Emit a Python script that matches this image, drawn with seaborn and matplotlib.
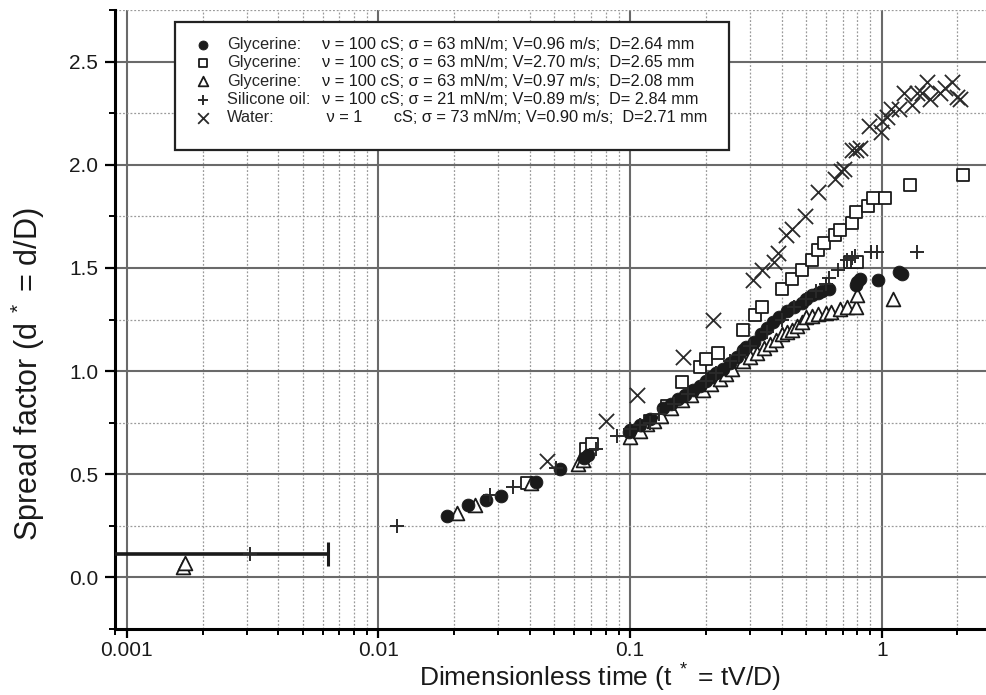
import matplotlib
matplotlib.use("Agg")
import matplotlib.pyplot as plt
import numpy as np
import pandas as pd
import seaborn as sns
from matplotlib.ticker import FixedLocator, NullFormatter, MultipleLocator
from matplotlib.patches import Rectangle

# ---------------- data ----------------
gly096_t = [0.0188, 0.0228, 0.0268, 0.0308, 0.0424, 0.0528, 0.0658, 0.068, 0.0993, 0.1,
            0.11, 0.12, 0.135, 0.145, 0.155, 0.165, 0.178, 0.19, 0.2, 0.21, 0.22, 0.234,
            0.25, 0.265, 0.28, 0.29, 0.31, 0.33, 0.35, 0.37, 0.39, 0.42, 0.45, 0.48,
            0.5, 0.53, 0.56, 0.58, 0.62, 0.79, 0.80, 0.82, 0.97, 1.17, 1.2]
gly096_d = [0.30, 0.353, 0.377, 0.396, 0.464, 0.527, 0.58, 0.595, 0.705, 0.715,
            0.74, 0.77, 0.82, 0.84, 0.865, 0.885, 0.91, 0.93, 0.95, 0.97, 0.99, 1.01,
            1.04, 1.07, 1.10, 1.115, 1.14, 1.18, 1.21, 1.24, 1.26, 1.29, 1.31, 1.33,
            1.35, 1.37, 1.38, 1.39, 1.40, 1.415, 1.43, 1.445, 1.44, 1.48, 1.47]

gly270_t = [0.039, 0.067, 0.0707, 0.12, 0.14, 0.161, 0.19, 0.2, 0.224, 0.28, 0.315, 0.335,
            0.40, 0.44, 0.48, 0.53, 0.56, 0.59, 0.65, 0.68, 0.75, 0.76, 0.79, 0.80,
            0.88, 0.92, 1.03, 1.29, 2.1]
gly270_d = [0.46, 0.62, 0.647, 0.76, 0.83, 0.947, 1.02, 1.06, 1.09, 1.20, 1.27, 1.31,
            1.40, 1.445, 1.49, 1.54, 1.585, 1.62, 1.66, 1.685, 1.53, 1.72, 1.77, 1.53,
            1.80, 1.84, 1.84, 1.90, 1.95]

gly097_t = [0.00167, 0.0017, 0.0205, 0.0242, 0.0404, 0.062, 0.065, 0.1, 0.11, 0.117,
            0.125, 0.133, 0.145, 0.161, 0.175, 0.194, 0.21, 0.228, 0.24, 0.254, 0.28,
            0.3, 0.32, 0.34, 0.36, 0.38, 0.40, 0.42, 0.44, 0.46, 0.48, 0.50, 0.53,
            0.56, 0.6, 0.63, 0.68, 0.73, 0.79, 0.80, 1.11]
gly097_d = [0.05, 0.07, 0.31, 0.35, 0.46, 0.55, 0.57, 0.68, 0.71, 0.745,
            0.76, 0.78, 0.82, 0.86, 0.885, 0.91, 0.935, 0.96, 0.985, 1.01, 1.05,
            1.07, 1.09, 1.11, 1.13, 1.15, 1.18, 1.19, 1.20, 1.22, 1.24, 1.26, 1.265,
            1.275, 1.28, 1.285, 1.30, 1.31, 1.31, 1.37, 1.35]

sil_t = [0.0031, 0.0119, 0.0277, 0.0343, 0.051, 0.073, 0.089, 0.1, 0.11, 0.12, 0.13,
         0.15, 0.17, 0.2, 0.22, 0.25, 0.27, 0.3, 0.35, 0.4, 0.45, 0.5, 0.55, 0.6,
         0.62, 0.67, 0.73, 0.76, 0.78, 0.91, 0.96, 1.38]
sil_d = [0.115, 0.25, 0.40, 0.44, 0.53, 0.62, 0.686, 0.72, 0.74, 0.75, 0.79,
         0.84, 0.89, 0.95, 0.99, 1.05, 1.08, 1.12, 1.19, 1.25, 1.31, 1.35, 1.39, 1.42,
         1.45, 1.49, 1.54, 1.55, 1.56, 1.575, 1.575, 1.575]

wat_t = [0.0466, 0.0803, 0.107, 0.163, 0.214, 0.309, 0.335, 0.372, 0.387, 0.418, 0.44,
         0.497, 0.56, 0.65, 0.69, 0.71, 0.76, 0.79, 0.82, 0.89, 0.99, 1.0, 1.05, 1.09,
         1.17, 1.23, 1.32, 1.38, 1.45, 1.52, 1.56, 1.71, 1.79, 1.9, 1.99, 2.05]
wat_d = [0.565, 0.758, 0.884, 1.068, 1.25, 1.44, 1.49, 1.53, 1.57, 1.66, 1.69,
         1.75, 1.87, 1.93, 1.97, 1.98, 2.07, 2.07, 2.08, 2.19, 2.16, 2.21, 2.23, 2.27,
         2.27, 2.35, 2.29, 2.35, 2.35, 2.40, 2.32, 2.35, 2.37, 2.40, 2.33, 2.32]

# horizontal error bar on the earliest silicone-oil point
err_t = 0.0031
err_d = 0.115
err_lo = 0.0027
err_hi = 0.0032

series_names = ["Glycerine:", "Glycerine:", "Glycerine:", "Silicone oil:", "Water:"]
series_params = ["\u03bd = 100 cS; \u03c3 = 63 mN/m; V=0.96 m/s;  D=2.64 mm",
                 "\u03bd = 100 cS; \u03c3 = 63 mN/m; V=2.70 m/s;  D=2.65 mm",
                 "\u03bd = 100 cS; \u03c3 = 63 mN/m; V=0.97 m/s;  D=2.08 mm",
                 "\u03bd = 100 cS; \u03c3 = 21 mN/m; V=0.89 m/s;  D= 2.84 mm",
                 " \u03bd = 1       cS; \u03c3 = 73 mN/m; V=0.90 m/s;  D=2.71 mm"]

x_ticks = [0.001, 0.01, 0.1, 1]
x_tick_labels = ["0.001", "0.01", "0.1", "1"]
y_ticks = [0.0, 0.5, 1.0, 1.5, 2.0, 2.5]
y_tick_labels = ["0.0", "0.5", "1.0", "1.5", "2.0", "2.5"]

# ---------------- style ----------------
sns.set_theme(style="white")
plt.rcParams['font.family'] = ['Liberation Sans', 'DejaVu Sans']
plt.rcParams['mathtext.fontset'] = 'custom'
plt.rcParams['mathtext.rm'] = 'Liberation Sans'
plt.rcParams['mathtext.it'] = 'Liberation Sans:italic'
plt.rcParams['mathtext.bf'] = 'Liberation Sans:bold'

W, H = 987, 695
fig = plt.figure(figsize=(W / 100, H / 100), dpi=100)
ax_l, ax_r, ax_t, ax_b = 115, 987, 10, 629
ax = fig.add_axes([ax_l / W, 1 - ax_b / H, (ax_r - ax_l) / W, (ax_b - ax_t) / H])

ink = "#1a1a1a"
frames = {
    "gly096": pd.DataFrame({"t": gly096_t, "d": gly096_d}),
    "gly270": pd.DataFrame({"t": gly270_t, "d": gly270_d}),
    "gly097": pd.DataFrame({"t": gly097_t, "d": gly097_d}),
    "sil": pd.DataFrame({"t": sil_t, "d": sil_d}),
    "wat": pd.DataFrame({"t": wat_t, "d": wat_d}),
}

ax.errorbar([err_t], [err_d], xerr=[[err_lo], [err_hi]], fmt="none",
            ecolor=ink, elinewidth=2.6, capsize=8.5, capthick=2.2, zorder=3)

sns.scatterplot(data=frames["gly096"], x="t", y="d", ax=ax, marker="o", s=85,
                color=ink, edgecolor=ink, linewidth=0.6, label=series_names[0], zorder=5)
sns.scatterplot(data=frames["gly270"], x="t", y="d", ax=ax, marker="s", s=66,
                color="white", edgecolor=ink, linewidth=1.3, label=series_names[1], zorder=4)
sns.scatterplot(data=frames["gly097"], x="t", y="d", ax=ax, marker="^", s=98,
                color="white", edgecolor=ink, linewidth=1.3, label=series_names[2], zorder=4)
sns.scatterplot(data=frames["sil"], x="t", y="d", ax=ax, marker="+", s=100,
                color="#2a2a2a", linewidth=1.4, label=series_names[3], zorder=6)
sns.scatterplot(data=frames["wat"], x="t", y="d", ax=ax, marker="x", s=120,
                color="#2a2a2a", linewidth=1.3, label=series_names[4], zorder=6)

ax.set_xscale("log")
ax.set_xlim(0.000898, 2.62)
ax.set_ylim(-0.25, 2.75)

ax.xaxis.set_major_locator(FixedLocator(x_ticks))
ax.set_xticklabels(x_tick_labels)
ax.xaxis.set_minor_locator(FixedLocator([m * 10.0 ** e for e in range(-4, 1) for m in range(2, 10)]))
ax.xaxis.set_minor_formatter(NullFormatter())
ax.set_yticks(y_ticks)
ax.set_yticklabels(y_tick_labels)
ax.yaxis.set_minor_locator(MultipleLocator(0.25))

ax.grid(which="major", color="#6a6a6a", linewidth=1.5, linestyle="-", zorder=0)
ax.grid(which="minor", color="#9a9a9a", linewidth=0.9, linestyle=(0, (1.5, 1.5)), zorder=0)
ax.set_axisbelow(True)

for s in ["top", "right"]:
    ax.spines[s].set_visible(False)
for s in ["left", "bottom"]:
    ax.spines[s].set_color("black")
    ax.spines[s].set_linewidth(2.2)

ax.tick_params(which="major", direction="out", length=6.5, width=1.6, color="black",
               labelsize=15, labelcolor=ink, pad=2.0, bottom=True, left=True)
ax.tick_params(which="minor", direction="out", length=4, width=1.4, color="black",
               bottom=True, left=True)
ax.tick_params(axis="y", which="major", length=7.5, pad=4.5)

ax.set_xlabel(r"Dimensionless time (t$^{\ *}$ = tV/D)", fontsize=19, color=ink)
ax.set_ylabel(r"Spread factor (d$^{\ *}$ = d/D)", fontsize=22, color=ink)
ax.xaxis.set_label_coords((600 - ax_l) / (ax_r - ax_l), (ax_b - 662) / (ax_b - ax_t))
ax.yaxis.set_label_coords((47 - ax_l) / (ax_r - ax_l), (ax_b - 374) / (ax_b - ax_t))

# ---------------- legend ----------------
leg_fs = 11.8
leg = ax.legend(loc="upper left", bbox_to_anchor=(193 / W, 1 - 37 / H),
                bbox_transform=fig.transFigure, frameon=False, fontsize=leg_fs,
                borderpad=0, borderaxespad=0, handletextpad=0.9, handlelength=1.2,
                labelspacing=0.2, markerscale=0.7)
leg.set_zorder(10)
frame = Rectangle((175 / W, 1 - 150 / H), (729 - 175) / W, (150 - 22) / H,
                  transform=fig.transFigure, facecolor="white", edgecolor="#222222",
                  linewidth=1.6, zorder=8, clip_on=False)
ax.add_patch(frame)

fig.canvas.draw()
renderer = fig.canvas.get_renderer()
for txt, prm in zip(leg.get_texts(), series_params):
    bb = txt.get_window_extent(renderer)
    ax.text(322 / W, bb.y0 / H, prm, fontsize=leg_fs, color=ink, ha="left", va="bottom",
            transform=fig.transFigure, zorder=11, clip_on=False)

fig.savefig("out.png", dpi=100)
